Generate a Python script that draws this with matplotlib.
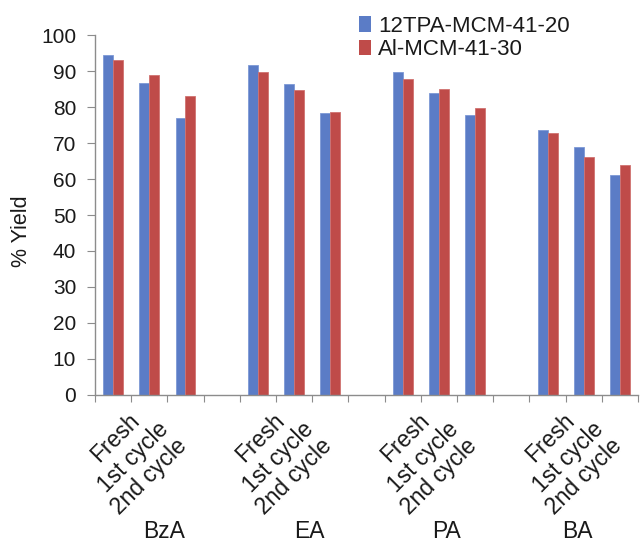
import matplotlib
matplotlib.use("Agg")
import matplotlib.pyplot as plt
from matplotlib import transforms
from matplotlib.patches import Patch

# Yields for each acid over the recycle runs
groups = ['BzA', 'EA', 'PA', 'BA']
cycles = ['Fresh', '1st cycle', '2nd cycle']
tpa_yield = [94.5, 86.8, 76.9,
             91.6, 86.4, 78.2,
             89.7, 83.9, 77.9,
             73.5, 68.8, 61.0]
al_yield = [93.1, 89.0, 83.0,
            89.7, 84.6, 78.7,
            87.9, 84.9, 79.7,
            72.7, 66.2, 63.9]
series_names = ['12TPA-MCM-41-20', 'Al-MCM-41-30']

blue = '#5b7cc6'
red = '#bf4b49'
grey = '#8c8c8c'
txt = '#1a1a1a'

plt.rcParams['font.family'] = ['Liberation Sans', 'DejaVu Sans']

fig = plt.figure(figsize=(6.4, 5.43), dpi=100)
ax = fig.add_axes([0.1484, 0.2726, 0.8486, 0.6629])

# one slot per bar pair, with an empty slot between acids
pos = [g * 4 + c for g in range(len(groups)) for c in range(len(cycles))]
w = 0.276
ax.bar([p - w / 2 for p in pos], tpa_yield, w, color=blue, edgecolor='#7d98d6', linewidth=0.6)
ax.bar([p + w / 2 for p in pos], al_yield, w, color=red, edgecolor='#d07270', linewidth=0.6)

ax.set_xlim(-0.5, 14.5)
ax.set_ylim(0, 100)
ax.set_yticks(range(0, 101, 10))
ax.set_xticks([i - 0.5 for i in range(16)])
ax.set_xticklabels([])

for s in ['top', 'right']:
    ax.spines[s].set_visible(False)
for s in ['left', 'bottom']:
    ax.spines[s].set_color(grey)
    ax.spines[s].set_linewidth(1.0)
ax.tick_params(axis='y', direction='out', length=6, color=grey, labelsize=15,
               labelcolor=txt, pad=7.5)
ax.tick_params(axis='x', direction='out', length=5, color=grey)
ax.set_ylabel('% Yield', fontsize=15.5, color=txt)
ax.yaxis.set_label_coords(-0.116, 0.456)

# rotated cycle labels, staggered under each acid
base = transforms.blended_transform_factory(ax.transData, ax.transAxes)
shift = [(15, 14), (8, 23), (-10, 39)]
for p, i in zip(pos, range(len(pos))):
    dx, dy = shift[i % 3]
    off = transforms.ScaledTranslation(dx / 100, -dy / 100, fig.dpi_scale_trans)
    ax.text(p, 0, cycles[i % 3], transform=base + off, rotation=45,
            rotation_mode='anchor', ha='right', va='top', fontsize=16.5, color=txt)

group_x = [1.4, 5.41, 9.22, 12.81]
for gx, name in zip(group_x, groups):
    off = transforms.ScaledTranslation(0, -137 / 100, fig.dpi_scale_trans)
    ax.text(gx, 0, name, transform=base + off, ha='center', va='center',
            fontsize=16.5, color=txt)

handles = [Patch(facecolor=blue), Patch(facecolor=red)]
fig.legend(handles, series_names, loc='upper left', bbox_to_anchor=(359 / 640, 1 - 16 / 543),
           frameon=False, fontsize=16, handlelength=0.55, handleheight=0.7,
           handletextpad=0.3, labelspacing=0.1, borderpad=0, borderaxespad=0,
           labelcolor=txt)

fig.savefig('out.png', dpi=100)
